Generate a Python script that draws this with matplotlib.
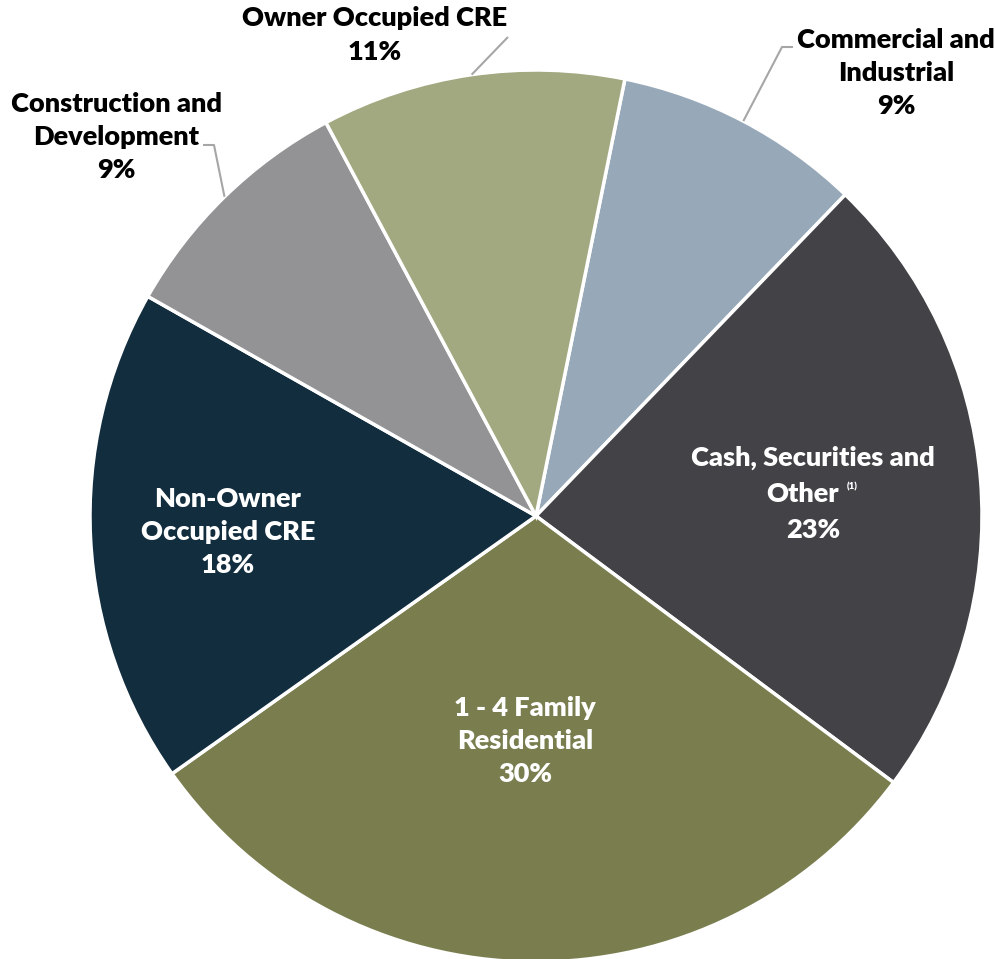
import matplotlib
matplotlib.use("Agg")
import matplotlib.pyplot as plt
import numpy as np

# Loan / asset mix
categories = ["Commercial and\nIndustrial", "Cash, Securities and\nOther", "1 - 4 Family\nResidential",
              "Non-Owner\nOccupied CRE", "Construction and\nDevelopment", "Owner Occupied CRE"]
shares = [9, 23, 30, 18, 9, 11]
colors = ["#97A9B8", "#434247", "#7A7E4F", "#122D3E", "#939395", "#A2A880"]

plt.rcParams["font.family"] = ["Lato", "DejaVu Sans"]
plt.rcParams["font.weight"] = "bold"

# pie geometry in pixels (figure is 996 x 959)
CX, CY, R = 536, 516, 446
W, H = 996, 959


def px(x, y):
    return ((x - CX) / R, (CY - y) / R)


fig = plt.figure(figsize=(W / 100, H / 100), dpi=100)
ax = fig.add_axes([0, 0, 1, 1])
wedges, _ = ax.pie(shares, colors=colors, startangle=78.5, counterclock=False,
                   radius=1, center=(0, 0),
                   wedgeprops=dict(edgecolor="white", linewidth=2.5))
ax.set_xlim(-CX / R, (W - CX) / R)
ax.set_ylim(-(H - CY) / R, CY / R)
ax.set_aspect("auto")
ax.axis("off")

fs = 19.5
ls = 1.45
fw = "heavy"

# labels inside the big slices (white)
inside = {2: (525, 741), 3: (228, 532)}
for i, (x, y) in inside.items():
    ax.text(*px(x, y), f"{categories[i]}\n{shares[i]}%", ha="center", va="center",
            color="white", fontsize=fs, fontweight=fw, linespacing=ls)

# cash slice label with footnote marker
ax.text(*px(813, 458), "Cash, Securities and", ha="center", va="center",
        color="white", fontsize=fs, fontweight=fw)
other = ax.text(*px(803, 494), "Other", ha="center", va="center",
                color="white", fontsize=fs, fontweight=fw)
ax.annotate("(1)", xy=(1, 0.8), xycoords=other, xytext=(5, 0), textcoords="offset points",
            ha="left", va="center", color="white", fontsize=7, fontweight=fw)
ax.text(*px(813, 530), f"{shares[1]}%", ha="center", va="center",
        color="white", fontsize=fs, fontweight=fw)

# outside labels with leader lines
outside = {0: ((896, 73), [(782, 47), (793, 47)]),
           4: ((116, 137), [(214, 145), (203, 145)]),
           5: ((375, 35), [(508, 37)])}
for i, ((x, y), elbow) in outside.items():
    ax.text(*px(x, y), f"{categories[i]}\n{shares[i]}%", ha="center", va="center",
            color="black", fontsize=fs, fontweight=fw, linespacing=ls)
    w = wedges[i]
    mid = np.deg2rad((w.theta1 + w.theta2) / 2)
    pts = [(np.cos(mid), np.sin(mid))] + [px(a, b) for a, b in elbow]
    ax.plot([p[0] for p in pts], [p[1] for p in pts], color="#A6A6A6", lw=1.5,
            solid_capstyle="butt")

fig.savefig("out.png", dpi=100)
